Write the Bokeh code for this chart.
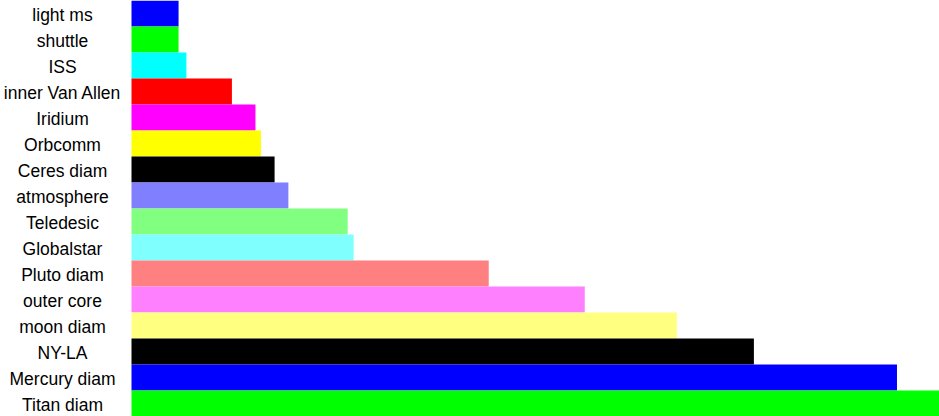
from bokeh.plotting import figure
from bokeh.models import Range1d, FactorRange, ColumnDataSource
from bokeh.core.properties import value
from bokeh.embed import file_html
from bokeh.resources import INLINE

# Distances in km
labels = ["light ms", "shuttle", "ISS", "inner Van Allen", "Iridium", "Orbcomm",
          "Ceres diam", "atmosphere", "Teledesic", "Globalstar", "Pluto diam",
          "outer core", "moon diam", "NY-LA", "Mercury diam", "Titan diam"]
distances_km = [300, 300, 350, 640, 790, 825, 912, 1000, 1378, 1416, 2277,
                2889, 3476, 3967, 4879, 5150]
colors = ["#0000ff", "#00ff00", "#00ffff", "#ff0000", "#ff00ff", "#ffff00",
          "#000000", "#8080ff", "#80ff80", "#80ffff", "#ff8080", "#ff80ff",
          "#ffff80", "#000000", "#0000ff", "#00ff00"]

W, H = 939, 416
label_px = 131          # width of the label column
bar_px = W - label_px
xmax = max(distances_km)
xmin = -label_px * xmax / bar_px

src = ColumnDataSource(dict(name=labels, dist=distances_km, color=colors,
                            zero=[0] * len(labels)))

p = figure(width=W, height=H, output_backend="svg", toolbar_location=None,
           y_range=FactorRange(factors=labels[::-1], range_padding=0),
           x_range=Range1d(xmin, xmax), min_border=0,
           background_fill_color="white", border_fill_color="white")

p.hbar(y="name", left=0, right="dist", height=1.0, fill_color="color",
       line_color=None, source=src)

p.text(x="zero", y="name", text="name", source=src, x_offset=-69, y_offset=1,
       text_align="center", text_baseline="middle", text_color="black",
       text_font=value("Liberation Sans"), text_font_size=value("17.5px"))

p.axis.visible = False
p.grid.visible = False
p.outline_line_color = None

open("out.html", "w").write(file_html(p, INLINE))
